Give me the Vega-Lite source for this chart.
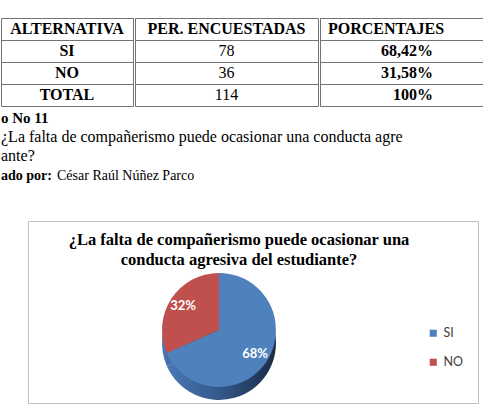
{
  "$schema": "https://vega.github.io/schema/vega-lite/v6.json",
  "padding": {"top": 17, "left": 0, "right": 0, "bottom": 0},
  "background": "white",
  "datasets": {
    "tabla": [
      {"alternativa": "SI", "encuestadas": 78, "porcentaje": "68,42%"},
      {"alternativa": "NO", "encuestadas": 36, "porcentaje": "31,58%"},
      {"alternativa": "TOTAL", "encuestadas": 114, "porcentaje": "100%"}
    ]
  },
  "data": {"name": "tabla"},
  "spacing": 4,
  "vconcat": [
    {
      "spacing": 0,
      "hconcat": [
        {
          "width": 132, "height": 88,
          "view": {"stroke": "#737373"},
          "encoding": {"y": {"field": "alternativa", "type": "nominal", "scale": {"type": "band", "domain": ["encabezado", "SI", "NO", "TOTAL"], "paddingInner": 0, "paddingOuter": 0}, "axis": {"grid": true, "bandPosition": 0, "gridColor": "#737373", "gridOpacity": 1, "labels": false, "ticks": false, "domain": false, "title": null}}},
          "layer": [
            {"mark": {"type": "text", "font": "Liberation Serif", "fontSize": 16, "fontWeight": "bold", "color": "#000"}, "encoding": {"text": {"field": "alternativa"}}},
            {"transform": [{"filter": "datum.alternativa === 'SI'"}], "mark": {"type": "text", "font": "Liberation Serif", "fontSize": 16, "fontWeight": "bold", "color": "#000"}, "encoding": {"y": {"datum": "encabezado"}, "text": {"value": "ALTERNATIVA"}}}
          ]
        },
        {
          "width": 183, "height": 88,
          "view": {"stroke": "#737373"},
          "encoding": {"y": {"field": "alternativa", "type": "nominal", "scale": {"type": "band", "domain": ["encabezado", "SI", "NO", "TOTAL"], "paddingInner": 0, "paddingOuter": 0}, "axis": {"grid": true, "bandPosition": 0, "gridColor": "#737373", "gridOpacity": 1, "labels": false, "ticks": false, "domain": false, "title": null}}},
          "layer": [
            {"mark": {"type": "text", "font": "Liberation Serif", "fontSize": 16, "color": "#000"}, "encoding": {"text": {"field": "encuestadas"}}},
            {"transform": [{"filter": "datum.alternativa === 'SI'"}], "mark": {"type": "text", "font": "Liberation Serif", "fontSize": 16, "fontWeight": "bold", "color": "#000"}, "encoding": {"y": {"datum": "encabezado"}, "text": {"value": "PER. ENCUESTADAS"}}}
          ]
        },
        {
          "width": 168, "height": 88,
          "view": {"stroke": "#737373"},
          "encoding": {"y": {"field": "alternativa", "type": "nominal", "scale": {"type": "band", "domain": ["encabezado", "SI", "NO", "TOTAL"], "paddingInner": 0, "paddingOuter": 0}, "axis": {"grid": true, "bandPosition": 0, "gridColor": "#737373", "gridOpacity": 1, "labels": false, "ticks": false, "domain": false, "title": null}}},
          "layer": [
            {"mark": {"type": "text", "font": "Liberation Serif", "fontSize": 16, "fontWeight": "bold", "color": "#000", "align": "right", "dx": 29}, "encoding": {"text": {"field": "porcentaje"}}},
            {"transform": [{"filter": "datum.alternativa === 'SI'"}], "mark": {"type": "text", "font": "Liberation Serif", "fontSize": 16, "fontWeight": "bold", "color": "#000", "align": "left", "dx": -76}, "encoding": {"y": {"datum": "encabezado"}, "text": {"value": "PORCENTAJES"}}}
          ]
        }
      ]
    },
    {
      "width": 483, "height": 1,
      "data": {"values": []},
      "mark": {"type": "point", "opacity": 0},
      "title": {
        "text": "o No 11",
        "subtitle": ["¿La falta de compañerismo puede ocasionar una conducta agre", "ante?"],
        "anchor": "start", "frame": "group", "offset": 0,
        "font": "Liberation Serif", "fontSize": 15, "fontWeight": "bold", "color": "#000",
        "subtitleFont": "Liberation Serif", "subtitleFontSize": 16, "subtitleColor": "#000",
        "subtitleLineHeight": 19, "subtitlePadding": 3
      }
    },
    {
      "spacing": 0,
      "hconcat": [
        {
          "width": 56, "height": 33,
          "data": {"values": []},
          "mark": {"type": "point", "opacity": 0},
          "title": {"text": "ado por:", "anchor": "start", "frame": "group", "offset": 0, "font": "Liberation Serif", "fontSize": 14, "fontWeight": "bold", "color": "#000"}
        },
        {
          "width": 427, "height": 33,
          "data": {"values": []},
          "mark": {"type": "point", "opacity": 0},
          "title": {"text": "César Raúl Núñez  Parco", "anchor": "start", "frame": "group", "offset": 0, "font": "Liberation Serif", "fontSize": 14, "fontWeight": "normal", "color": "#000"}
        }
      ]
    },
    {
      "spacing": 0,
      "hconcat": [
        {
          "width": 26, "height": 182,
          "data": {"values": []},
          "mark": {"type": "point", "opacity": 0}
        },
        {
          "width": 450, "height": 182,
          "view": {"stroke": "#BFBFBF", "strokeWidth": 1},
          "transform": [
            {"filter": "datum.alternativa !== 'TOTAL'"},
            {"joinaggregate": [{"op": "sum", "field": "encuestadas", "as": "total"}]},
            {"calculate": "datum.encuestadas / datum.total", "as": "fraccion"}
          ],
          "title": {
            "text": ["¿La falta de compañerismo puede ocasionar una", "conducta agresiva del estudiante?"],
            "anchor": "middle", "dx": -14, "offset": -47,
            "font": "Liberation Serif", "fontSize": 16.5, "fontWeight": "bold", "lineHeight": 20, "color": "#000"
          },
          "layer": [
            {
              "mark": {"type": "arc", "radius": 57, "xOffset": -34, "yOffset": 31, "stroke": null,
                "fill": {"gradient": "linear", "x1": 0, "y1": 0, "x2": 1, "y2": 0, "stops": [{"offset": 0, "color": "#4A78B3"}, {"offset": 0.5, "color": "#33578A"}, {"offset": 1, "color": "#1B2B45"}]}},
              "encoding": {
                "theta": {"field": "encuestadas", "type": "quantitative", "stack": true},
                "order": {"field": "encuestadas", "type": "quantitative", "sort": "descending"}
              }
            },
            {
              "mark": {"type": "arc", "radius": 57, "xOffset": -34, "yOffset": 18, "stroke": null},
              "encoding": {
                "theta": {"field": "encuestadas", "type": "quantitative", "stack": true},
                "order": {"field": "encuestadas", "type": "quantitative", "sort": "descending"},
                "color": {"field": "alternativa", "type": "nominal", "scale": {"domain": ["SI", "NO"], "range": ["#4F81BD", "#C0504D"]},
                  "legend": {"orient": "none", "legendX": 426, "legendY": 309, "title": null, "symbolType": "square", "symbolSize": 50, "symbolStrokeWidth": 0, "labelFont": "Lato", "labelFontSize": 12.5, "labelColor": "#404040", "rowPadding": 16, "labelOffset": 4, "padding": 0}}
              }
            },
            {
              "mark": {"type": "text", "radius": 43, "xOffset": -34, "yOffset": 18, "font": "Lato", "fontSize": 13, "fontWeight": "bold", "fill": "white"},
              "encoding": {
                "theta": {"field": "encuestadas", "type": "quantitative", "stack": true},
                "order": {"field": "encuestadas", "type": "quantitative", "sort": "descending"},
                "text": {"field": "fraccion", "type": "quantitative", "format": ".0%"}
              }
            }
          ]
        }
      ]
    }
  ],
  "config": {
    "view": {"stroke": null},
    "font": "Liberation Serif"
  }
}
